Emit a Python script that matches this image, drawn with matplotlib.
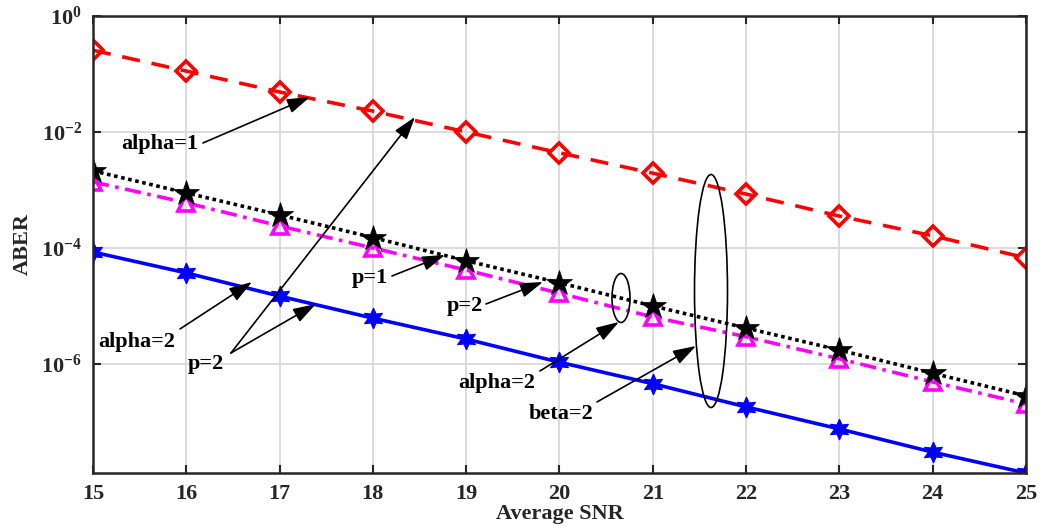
import numpy as np
import matplotlib
matplotlib.use("Agg")
import matplotlib.pyplot as plt
from matplotlib.patches import Ellipse

plt.rcParams['font.family'] = ['Liberation Serif', 'DejaVu Serif']
plt.rcParams['font.weight'] = 'bold'
plt.rcParams['mathtext.fontset'] = 'custom'
plt.rcParams['mathtext.rm'] = 'Liberation Serif:bold'
plt.rcParams['mathtext.default'] = 'rm'

# Data (log10 of ABER)
snr = [15, 16, 17, 18, 19, 20, 21, 22, 23, 24, 25]
log_alpha1 = [-0.59, -0.95, -1.31, -1.64, -2.00, -2.36, -2.71, -3.07, -3.45, -3.79, -4.17]
log_p1 = [-2.67, -3.05, -3.43, -3.82, -4.22, -4.60, -5.00, -5.38, -5.76, -6.16, -6.55]
log_p2 = [-2.86, -3.22, -3.62, -4.00, -4.38, -4.78, -5.19, -5.53, -5.91, -6.31, -6.69]
log_beta2 = [-4.07, -4.43, -4.83, -5.21, -5.57, -5.97, -6.34, -6.74, -7.12, -7.52, -7.88]

aber_alpha1 = 10 ** np.array(log_alpha1)
aber_p1 = 10 ** np.array(log_p1)
aber_p2 = 10 ** np.array(log_p2)
aber_beta2 = 10 ** np.array(log_beta2)

fig = plt.figure(figsize=(10.4, 5.31), dpi=100)
ax = fig.add_axes([0.0894, 0.1092, 0.8971, 0.8607])

ax.semilogy(snr, aber_alpha1, color='red', linestyle=(0, (5, 3.3)), linewidth=2.6,
            marker='D', markersize=10.5, markerfacecolor='none', markeredgewidth=2.6)
ax.semilogy(snr, aber_p2, color='magenta', linestyle=(0, (4.5, 1.8, 1, 1.8)), linewidth=2.6,
            marker='^', markersize=11, markerfacecolor='none', markeredgewidth=2.6)
ax.semilogy(snr, aber_p1, color='black', linestyle=(0, (1, 1)), linewidth=2.6,
            marker='*', markersize=19, markerfacecolor='black', markeredgewidth=0.5)
ax.semilogy(snr, aber_beta2, color='blue', linestyle='-', linewidth=2.6,
            marker=(6, 1, 0), markersize=15, markerfacecolor='blue', markeredgewidth=0.8)

ax.set_xlim(15, 25)
ax.set_ylim(10 ** -7.88, 1)
ax.set_xticks(snr)
ax.set_yticks([1e0, 1e-2, 1e-4, 1e-6])
ax.set_yticklabels([r'$10^{0}$', r'$10^{-2}$', r'$10^{-4}$', r'$10^{-6}$'])
ax.minorticks_off()
ax.tick_params(direction='in', length=6, width=1.5, top=True, right=True,
               labelsize=16, colors='#262626', pad=8)
for s in ax.spines.values():
    s.set_linewidth(1.8)
    s.set_color('#262626')
ax.grid(True, color='#d9d9d9', linewidth=1.3)
ax.set_axisbelow(True)

ax.set_xlabel('Average SNR', fontsize=16, fontweight='bold', color='#262626', labelpad=0)
ax.set_ylabel('ABER', fontsize=16, fontweight='bold', color='#262626', labelpad=6)


def px(x, y):
    # pixel position in the reference to data coordinates
    return 15 + (x - 93) / 93.3, 10 ** (-(y - 16) / 58.0)


arrow = dict(arrowstyle='-|>,head_length=1.4,head_width=0.45', color='black',
             linewidth=1.2, shrinkA=0, shrinkB=0)
tfont = dict(fontsize=16, fontweight='bold', ha='center', va='center')

# alpha=1
ax.annotate('', xy=px(310, 97), xytext=px(203, 143), arrowprops=arrow)
ax.text(*px(160, 144), 'alpha=1', **tfont)
# alpha=2 (left)
ax.annotate('', xy=px(252, 282), xytext=px(180, 329), arrowprops=arrow)
ax.text(*px(137, 342), 'alpha=2', **tfont)
# p=2 (left) with two arrows
ax.annotate('', xy=px(415, 117), xytext=px(231, 353), arrowprops=arrow)
ax.annotate('', xy=px(316, 304), xytext=px(231, 353), arrowprops=arrow)
ax.text(*px(206, 364), 'p=2', **tfont)
# p=1
ax.annotate('', xy=px(445, 255), xytext=px(392, 276), arrowprops=arrow)
ax.text(*px(370, 278), 'p=1', **tfont)
# p=2 (middle)
ax.annotate('', xy=px(543, 282), xytext=px(486, 304), arrowprops=arrow)
ax.text(*px(465, 306), 'p=2', **tfont)
# alpha=2 (middle)
ax.annotate('', xy=px(619, 322), xytext=px(540, 371), arrowprops=arrow)
ax.text(*px(497, 383), 'alpha=2', **tfont)
# beta=2
ax.annotate('', xy=px(696, 346), xytext=px(597, 402), arrowprops=arrow)
ax.text(*px(561, 414), 'beta=2', **tfont)

# ellipses drawn in pixel space
for cx, cy, w, h in [(621, 298, 18, 49), (711, 291, 33, 233)]:
    e = Ellipse((cx / 1040, 1 - cy / 531), w / 1040, h / 531, transform=fig.transFigure,
                fill=False, edgecolor='black', linewidth=1.2)
    fig.add_artist(e)

fig.savefig('out.png', dpi=100)
